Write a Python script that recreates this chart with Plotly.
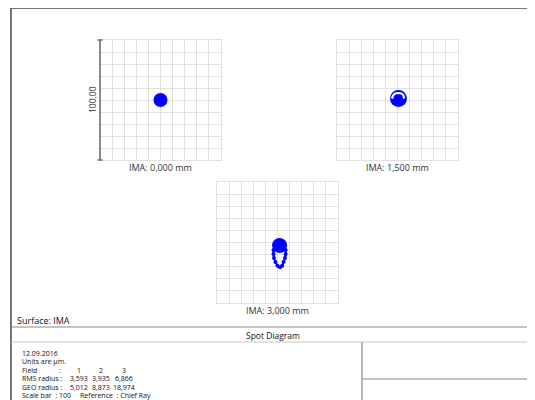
import plotly.graph_objects as go

W, H = 535, 400
OFF = 8  # page body margin offset

# ---------------- data ----------------
field_labels = ["IMA: 0,000 mm", "IMA: 1,500 mm", "IMA: 3,000 mm"]
field_numbers = ["1", "2", "3"]
rms_radius = ["3,593", "3,935", "6,866"]
geo_radius = ["5,012", "8,873", "18,974"]
date_text = "12.09.2016"
units_text = "Units are µm."
scale_bar = "100"
scale_bar_label = "100,00"
reference = "Chief Ray"
surface = "Surface: IMA"
title = "Spot Diagram"
axis_range = [-50, 50]

# spot points (µm, relative to chief ray)
f1_x = [0.0]
f1_y = [0.0]

f2_x = [0.8]
f2_y = [1.3]
f2_gap_x = [-4.6, -3.3, -1.2, 0.4, 2.5, 4.6, 5.4]
f2_gap_y = [1.2, 4.2, 5.6, 5.8, 5.6, 4.2, 1.2]

f3_x = [1.7]
f3_y = [-2.5]
f3_u_x = [-3.3, -3.3, -2.9, -1.7, 0.0, 2.1, 3.8, 5.0, 6.2, 6.7, 6.7]
f3_u_y = [-6.2, -9.6, -12.9, -16.2, -19.2, -20.4, -19.2, -16.2, -12.9, -9.6, -6.2]

# ---------------- layout helpers ----------------
def px_x(p):
    return (p - OFF) / W

def px_y(p):
    return 1 - (p - OFF) / H

boxes = [  # left, top, right, bottom in pixels (screen)
    (100, 40, 221, 160),
    (337, 40, 458, 160),
    (217, 182, 338, 303),
]

BLUE = "#0000ff"
GRID = "#e0e0e0"
TXT = "#333333"
FONT = "Open Sans"

fig = go.Figure()

spots = [
    [(f1_x, f1_y, "markers", 14, BLUE)],
    [(f2_x, f2_y, "markers", 17, BLUE), (f2_gap_x, f2_gap_y, "lines", 2.2, "white")],
    [(f3_x, f3_y, "markers", 15, BLUE), (f3_u_x, f3_u_y, "lines+markers", 3, BLUE)],
]

for i, (l, t, r, b) in enumerate(boxes):
    sfx = "" if i == 0 else str(i + 1)
    xa = dict(domain=[px_x(l), px_x(r)], range=axis_range, dtick=10, tick0=-50,
              showgrid=True, gridcolor=GRID, gridwidth=1, zeroline=False,
              showticklabels=False, ticks="", showline=True, linecolor=GRID,
              linewidth=1, mirror=True, fixedrange=True,
              anchor="y" + sfx)
    ya = dict(domain=[px_y(b), px_y(t)], range=axis_range, dtick=10, tick0=-50,
              showgrid=True, gridcolor=GRID, gridwidth=1, zeroline=False,
              showticklabels=False, ticks="", showline=True, linecolor=GRID,
              linewidth=1, mirror=True, fixedrange=True,
              anchor="x" + sfx)
    fig.update_layout(**{"xaxis" + sfx: xa, "yaxis" + sfx: ya})
    for xs, ys, mode, sz, col in spots[i]:
        if mode == "markers":
            fig.add_trace(go.Scatter(x=xs, y=ys, mode="markers",
                                     marker=dict(size=sz, color=col, line=dict(width=0)),
                                     xaxis="x" + sfx, yaxis="y" + sfx, hoverinfo="skip"))
        elif mode == "lines":
            fig.add_trace(go.Scatter(x=xs, y=ys, mode="lines",
                                     line=dict(width=sz, color=col, shape="spline"),
                                     xaxis="x" + sfx, yaxis="y" + sfx, hoverinfo="skip"))
        else:
            fig.add_trace(go.Scatter(x=xs, y=ys, mode="lines+markers",
                                     line=dict(width=2, color=col, shape="spline"),
                                     marker=dict(size=sz + 1, color=col),
                                     xaxis="x" + sfx, yaxis="y" + sfx, hoverinfo="skip"))
    fig.add_annotation(text=field_labels[i], x=px_x((l + r) / 2), y=px_y(b + 7),
                       xref="paper", yref="paper", showarrow=False,
                       font=dict(family=FONT, size=9, color=TXT),
                       xanchor="center", yanchor="middle")

shapes = []
def line(x0, y0, x1, y1, color, width):
    shapes.append(dict(type="line", xref="paper", yref="paper",
                       x0=px_x(x0), y0=px_y(y0), x1=px_x(x1), y1=px_y(y1),
                       line=dict(color=color, width=width)))

# scale bar on first plot
line(100, 40, 100, 160, "#6a6a6a", 1.5)
line(97.5, 40, 102.5, 40, "#6a6a6a", 1.5)
line(97.5, 160, 102.5, 160, "#6a6a6a", 1.5)
fig.add_annotation(text=scale_bar_label, x=px_x(92), y=px_y(100), xref="paper", yref="paper",
                   showarrow=False, textangle=-90, font=dict(family=FONT, size=8.5, color=TXT),
                   xanchor="center", yanchor="middle")

# frame
line(11, 8, 545, 8, "#4a4a4a", 1.5)
line(11, 8, 11, 410, "#4a4a4a", 1.5)
line(11, 327, 545, 327, "#8a8a8a", 1.2)
line(11, 342, 545, 342, "#c8c8c8", 1)
line(362, 342, 362, 410, "#8a8a8a", 1.2)
line(362, 379, 545, 379, "#8a8a8a", 1.2)
fig.update_layout(shapes=shapes)

def txt(s, x, y, size=7, anchor="left"):
    fig.add_annotation(text=s, x=px_x(x), y=px_y(y), xref="paper", yref="paper",
                       showarrow=False, font=dict(family=FONT, size=size, color="#111111"),
                       xanchor=anchor, yanchor="middle")

txt(surface, 15, 320, size=9)
txt(title, 273, 335, size=8.5, anchor="center")

FS = 7
row_y = [353, 361.5, 370, 378.5, 387, 395.5]
txt(date_text, 20, row_y[0], size=FS)
txt(units_text, 20, row_y[1], size=FS)
txt("Field", 20, row_y[2], size=FS)
txt(":", 57, row_y[2], size=FS)
txt("RMS radius :", 20, row_y[3], size=FS)
txt("GEO radius :", 20, row_y[4], size=FS)
col_x = [79, 101, 124]
for j in range(3):
    txt(field_numbers[j], col_x[j], row_y[2], size=FS, anchor="center")
    txt(rms_radius[j], col_x[j], row_y[3], size=FS, anchor="center")
    txt(geo_radius[j], col_x[j], row_y[4], size=FS, anchor="center")
txt("Scale bar  : " + scale_bar + "     Reference  : " + reference, 20, row_y[5], size=FS)

fig.update_layout(width=W, height=H, margin=dict(l=0, r=0, t=0, b=0),
                  paper_bgcolor="white", plot_bgcolor="white", showlegend=False)

fig.write_html("out.html", config={"displayModeBar": False})
